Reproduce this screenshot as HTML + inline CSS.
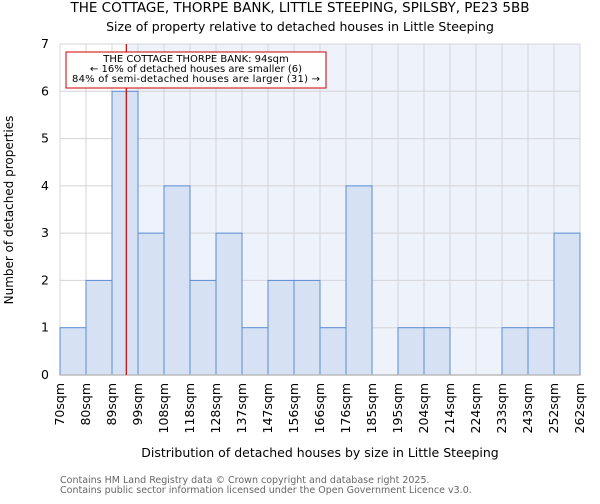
<!DOCTYPE html>
<html><head><meta charset="utf-8"><style>
body{margin:0;background:#fff;font-family:"DejaVu Sans","Liberation Sans",sans-serif}
</style></head><body>
<svg width="600" height="500" xmlns="http://www.w3.org/2000/svg" font-family="DejaVu Sans, Liberation Sans, sans-serif">
<text x="300" y="12" text-anchor="middle" font-size="13.5">THE COTTAGE, THORPE BANK, LITTLE STEEPING, SPILSBY, PE23 5BB</text>
<text x="300" y="31" text-anchor="middle" font-size="12.5">Size of property relative to detached houses in Little Steeping</text>
<g id="plot"></g>
<text transform="translate(13,210) rotate(-90)" text-anchor="middle" font-size="12">Number of detached properties</text>
<text x="320" y="457" text-anchor="middle" font-size="12.5">Distribution of detached houses by size in Little Steeping</text>
<text x="60" y="483" font-size="9.5" fill="#666">Contains HM Land Registry data © Crown copyright and database right 2025.</text>
<text x="60" y="493" font-size="9.5" fill="#666">Contains public sector information licensed under the Open Government Licence v3.0.</text>
</svg>
<script>
const binLabels=["70sqm","80sqm","89sqm","99sqm","108sqm","118sqm","128sqm","137sqm","147sqm","156sqm","166sqm","176sqm","185sqm","195sqm","204sqm","214sqm","224sqm","233sqm","243sqm","252sqm","262sqm"];
const counts=[1,2,6,3,4,2,3,1,2,2,1,4,0,1,1,0,0,1,1,3];
const yTicks=[0,1,2,3,4,5,6,7];
const markerBin=2.55;
const NS="http://www.w3.org/2000/svg";
const g=document.getElementById('plot');
const X0=60,X1=580,Y0=375,Y1=44,yMax=7;
const bw=(X1-X0)/counts.length;
const xs=i=>X0+i*bw;
const ys=v=>Y0-(Y0-Y1)*v/yMax;
function mk(t,a){const e=document.createElementNS(NS,t);for(const k in a)e.setAttribute(k,a[k]);g.appendChild(e);return e;}
const mx=xs(markerBin);
const bg=mk('rect',{x:mx,y:Y1,width:X1-mx,height:Y0-Y1,fill:'#eef2fb'});


for(let i=0;i<=counts.length;i++){const l=mk('line',{x1:xs(i),x2:xs(i),y1:Y1,y2:Y0,stroke:'#d4d4d8','stroke-width':1});

}
yTicks.forEach(t=>{const l=mk('line',{x1:X0,x2:X1,y1:ys(t),y2:ys(t),stroke:'#d4d4d8','stroke-width':1});


const tx=mk('text',{x:X0-11,y:ys(t)+4,'text-anchor':'end','font-size':12.5});tx.textContent=t;

});
counts.forEach((c,i)=>{if(c<=0)return;const r=mk('rect',{x:xs(i),y:ys(c),width:bw,height:Y0-ys(c),fill:'#d6e1f3',stroke:'#5b8dd6','stroke-width':1});

});
const ax=mk('line',{x1:X0,x2:X1,y1:Y0,y2:Y0,stroke:'#bbb','stroke-width':1.5});


binLabels.forEach((s,i)=>{const tx=mk('text',{transform:`translate(${xs(i)+4},383) rotate(-90)`,'text-anchor':'end','font-size':12.5});tx.textContent=s;

});
const ml=mk('line',{x1:mx,x2:mx,y1:Y1,y2:Y0,stroke:'#cc0000','stroke-width':1.2});


const box=mk('rect',{x:66,y:52,width:260,height:36,fill:'#fff',stroke:'#cc0000','stroke-width':1});


["THE COTTAGE THORPE BANK: 94sqm","← 16% of detached houses are smaller (6)","84% of semi-detached houses are larger (31) →"].forEach((s,k)=>{const tx=mk('text',{x:196,y:62+k*10,'text-anchor':'middle','font-size':10,textLength:k==2?248:null});tx.textContent=s;if(k!=2)tx.removeAttribute('textLength');

});
</script>
</body></html>
